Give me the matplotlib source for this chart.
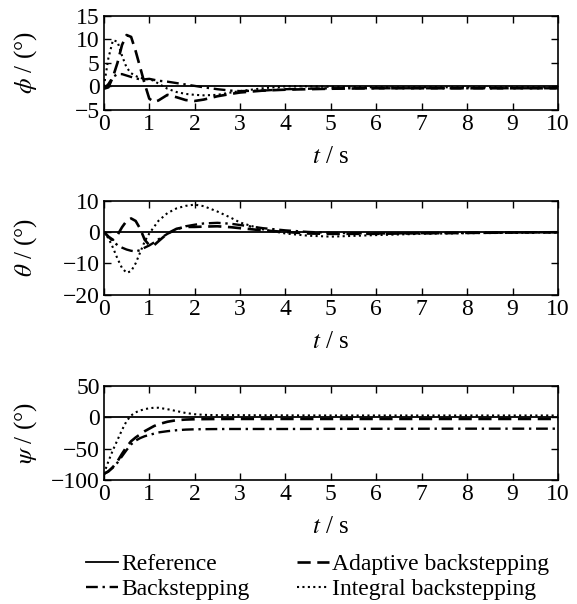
import numpy as np
import matplotlib
matplotlib.use("Agg")
import matplotlib.pyplot as plt

plt.rcParams['font.family'] = ['Liberation Serif', 'DejaVu Serif']
plt.rcParams['mathtext.fontset'] = 'stix'
plt.rcParams['font.size'] = 17

# time samples (s)
t = [0, 0.1, 0.2, 0.3, 0.4, 0.5, 0.6, 0.7, 0.8, 0.9, 1.0, 1.1, 1.2, 1.4, 1.6,
     1.8, 2.0, 2.2, 2.5, 2.8, 3.0, 3.5, 4.0, 4.5, 5, 6, 7, 8, 9, 10]

# roll angle phi (deg)
phi_ref = [0] * len(t)
phi_adaptive = [-0.5, -0.2, 2.0, 5.0, 8.8, 10.9, 10.5, 7.5, 4.0, 0.5, -2.6, -3.3, -3.0,
                -1.8, -2.3, -2.9, -3.1, -2.8, -2.1, -1.6, -1.3, -0.9, -0.7, -0.6,
                -0.5, -0.4, -0.4, -0.4, -0.4, -0.4]
phi_back = [-0.5, 0.5, 2.0, 2.6, 2.6, 2.3, 2.0, 1.7, 1.5, 1.5, 1.6, 1.4, 1.2, 1.0,
            0.7, 0.4, 0.1, -0.2, -0.6, -0.9, -1.0, -0.9, -0.6, -0.5, -0.4, -0.4,
            -0.4, -0.4, -0.4, -0.4]
phi_integral = [0, 6.0, 9.8, 9.5, 6.5, 4.0, 2.8, 2.2, 1.8, 1.6, 1.5, 1.2, 0.6, -0.5,
                -1.2, -1.6, -1.8, -1.9, -1.8, -1.3, -1.0, -0.4, 0.0, 0.0, -0.1,
                -0.2, -0.2, -0.2, -0.2, -0.2]

# pitch angle theta (deg)
theta_ref = [0] * len(t)
theta_adaptive = [0, -1.5, -2.5, -1.0, 1.5, 3.5, 4.3, 3.5, 1.0, -2.5, -4.2, -4.3,
                  -3.0, -0.5, 1.0, 1.6, 1.6, 1.7, 1.8, 1.5, 1.2, 0.5, 0.0, -0.5,
                  -0.6, -0.6, -0.4, -0.3, -0.2, -0.1]
theta_back = [0, -1.5, -3.0, -4.2, -5.0, -5.6, -6.0, -6.2, -5.8, -5.0, -4.3, -3.4,
              -2.4, -0.6, 0.8, 1.8, 2.3, 2.7, 2.9, 2.6, 2.2, 1.2, 0.5, 0.0, -0.3,
              -0.5, -0.4, -0.3, -0.2, -0.1]
theta_integral = [0, -2.0, -5.0, -8.5, -11.5, -13.0, -12.5, -10.0, -6.5, -3.0, -0.5,
                  1.5, 3.5, 6.0, 7.5, 8.3, 8.7, 8.2, 6.5, 4.5, 3.0, 0.8, -0.5,
                  -1.2, -1.5, -1.0, -0.6, -0.4, -0.3, -0.2]

# yaw angle psi (deg)
psi_ref = [0] * len(t)
psi_adaptive = [-90, -86, -79, -70, -58, -47, -38, -32, -27, -22, -18, -14, -11, -7,
                -4.5, -3.5, -3.0, -2.8, -2.6, -2.5, -2.5, -2.5, -2.5, -2.5, -2.5,
                -2.5, -2.5, -2.5, -2.5, -2.5]
psi_back = [-90, -86, -80, -72, -62, -52, -43, -37, -33, -30, -28, -26, -24, -22,
            -20.5, -19.5, -19, -18.8, -18.6, -18.5, -18.5, -18.5, -18.5, -18.4,
            -18.3, -18.2, -18.1, -18.0, -18.0, -18.0]
psi_integral = [-90, -70, -52, -36, -20, -6, 3, 8, 11, 13, 14.5, 15.3, 15.3, 13, 10,
                7, 5, 4, 3.5, 3.5, 3.5, 3.3, 3.2, 3.1, 3.0, 3.0, 3.0, 3.0, 3.0, 3.0]

panels = [
    (r'$\phi$ / (°)', [-5, 15], [-5, 0, 5, 10, 15],
     phi_ref, phi_adaptive, phi_back, phi_integral),
    (r'$\theta$ / (°)', [-20, 10], [-20, -10, 0, 10],
     theta_ref, theta_adaptive, theta_back, theta_integral),
    (r'$\psi$ / (°)', [-100, 50], [-100, -50, 0, 50],
     psi_ref, psi_adaptive, psi_back, psi_integral),
]

fig = plt.figure(figsize=(5.77, 6.04), dpi=100)
bottoms = [0.818, 0.512, 0.205]
lines = []
for (ylab, ylim, yticks, ref, ada, bck, itg), b in zip(panels, bottoms):
    ax = fig.add_axes([0.180, b, 0.787, 0.156])
    l1, = ax.plot(t, ref, color='black', lw=1.3, ls='-', label='Reference')
    l2, = ax.plot(t, ada, color='black', lw=1.9, ls=(0, (5, 2.5)),
                  label='Adaptive backstepping')
    l3, = ax.plot(t, bck, color='black', lw=1.7, ls=(0, (5, 2, 1, 2)),
                  label='Backstepping')
    l4, = ax.plot(t, itg, color='black', lw=1.5, ls=(0, (1, 1.6)),
                  label='Integral backstepping')
    lines = [l1, l2, l3, l4]
    ax.set_xlim(0, 10)
    ax.set_ylim(*ylim)
    ax.set_xticks(range(0, 11))
    ax.set_yticks(yticks)
    ax.tick_params(direction='in', top=True, right=True, length=5, width=1,
                   labelsize=17, pad=3)
    for s in ax.spines.values():
        s.set_linewidth(1.2)
    ax.set_xlabel(r'$t$ / s', fontsize=18, labelpad=8)
    ax.set_ylabel(ylab, fontsize=18)
    ax.yaxis.set_label_coords(-0.143, 0.5)

fig.legend([lines[0], lines[2], lines[1], lines[3]],
           ['Reference', 'Backstepping', 'Adaptive backstepping', 'Integral backstepping'],
           ncol=2, loc='upper left', bbox_to_anchor=(0.149, 0.083), frameon=False,
           fontsize=17, handlelength=1.35, handletextpad=0.15, columnspacing=2.0,
           labelspacing=0.15, borderaxespad=0, borderpad=0)

fig.savefig('out.png', dpi=100)
